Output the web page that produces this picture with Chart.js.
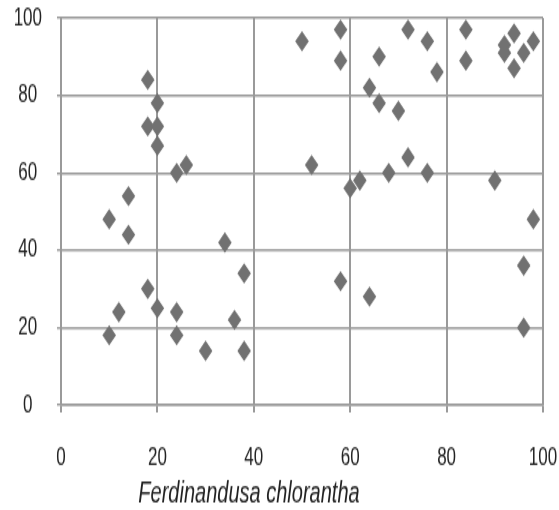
<!DOCTYPE html>
<html>
<head>
<meta charset="utf-8">
<script src="https://cdn.jsdelivr.net/npm/chart.js@4"></script>
<style>
  html, body { margin: 0; padding: 0; background: #fff; }
</style>
</head>
<body>
<!-- the reference is stretched vertically: draw 340 high, show it 510 high -->
<canvas id="scatter" width="559" height="340" style="width:559px;height:510px;display:block"></canvas>
<script>
'use strict';

// Ferdinandusa chlorantha – x / y pairs
const xValues = [
    10, 12, 10, 14, 14, 18, 20, 18, 20, 20, 24, 26, 18, 20, 24, 24, 30, 34, 36, 38, 38,
    50, 52, 58, 58, 58, 60, 62, 64, 64, 66, 66, 68, 70, 72, 72, 76, 76, 78,
    84, 84, 90, 92, 92, 94, 94, 96, 96, 96, 98, 98
];
const yValues = [
    18, 24, 48, 54, 44, 84, 78, 72, 72, 67, 60, 62, 30, 25, 24, 18, 14, 42, 22, 34, 14,
    94, 62, 97, 89, 32, 56, 58, 82, 28, 90, 78, 60, 76, 97, 64, 94, 60, 86,
    97, 89, 58, 93, 91, 96, 87, 91, 36, 20, 94, 48
];
const xTicks = [0, 20, 40, 60, 80, 100];
const yTicks = [0, 20, 40, 60, 80, 100];
const axisTitle = 'Ferdinandusa chlorantha';

const GRID = '#9a9a9a';
const MARKER = '#717171';
const FONT = "'Liberation Sans', Arial, sans-serif";

const points = xValues.map((x, i) => ({ x, y: yValues[i] }));

// title sits left of the plot centre, so draw it by hand
const titlePlugin = {
    id: 'speciesTitle',
    afterDraw(chart) {
        const c = chart.ctx;
        c.save();
        c.font = `italic 20px ${FONT}`;
        c.fillStyle = '#222';
        c.textAlign = 'center';
        c.textBaseline = 'middle';
        c.fillText(axisTitle, 249, 329);
        c.restore();
    }
};

new Chart(document.getElementById('scatter'), {
    type: 'scatter',
    data: {
        datasets: [{
            data: points,
            pointStyle: 'rectRot',
            pointRadius: 6.8,
            pointHoverRadius: 6.8,
            backgroundColor: MARKER,
            borderColor: MARKER,
            borderWidth: 0
        }]
    },
    options: {
        responsive: false,
        animation: false,
        layout: { padding: { top: 12, right: 16, left: 0, bottom: 0 } },
        plugins: { legend: { display: false }, tooltip: { enabled: false } },
        scales: {
            x: {
                type: 'linear', min: 0, max: 100,
                afterBuildTicks: s => { s.ticks = xTicks.map(v => ({ value: v })); },
                afterFit: s => { s.height = 70; s.paddingLeft = 0; s.paddingRight = 0; },
                grid: { color: GRID, lineWidth: 2, tickLength: 5 },
                border: { color: GRID, width: 1.4 },
                ticks: { padding: 20, color: '#222', font: { family: FONT, size: 17 } }
            },
            y: {
                type: 'linear', min: 0, max: 100,
                afterBuildTicks: s => { s.ticks = yTicks.map(v => ({ value: v })); },
                afterFit: s => { s.width = 61; s.paddingTop = 0; s.paddingBottom = 0; },
                grid: { color: GRID, lineWidth: 1.4, tickLength: 4 },
                border: { color: GRID, width: 2 },
                ticks: { padding: 15, crossAlign: 'center', color: '#222', font: { family: FONT, size: 17 } }
            }
        }
    },
    plugins: [titlePlugin]
});
</script>
</body>
</html>
